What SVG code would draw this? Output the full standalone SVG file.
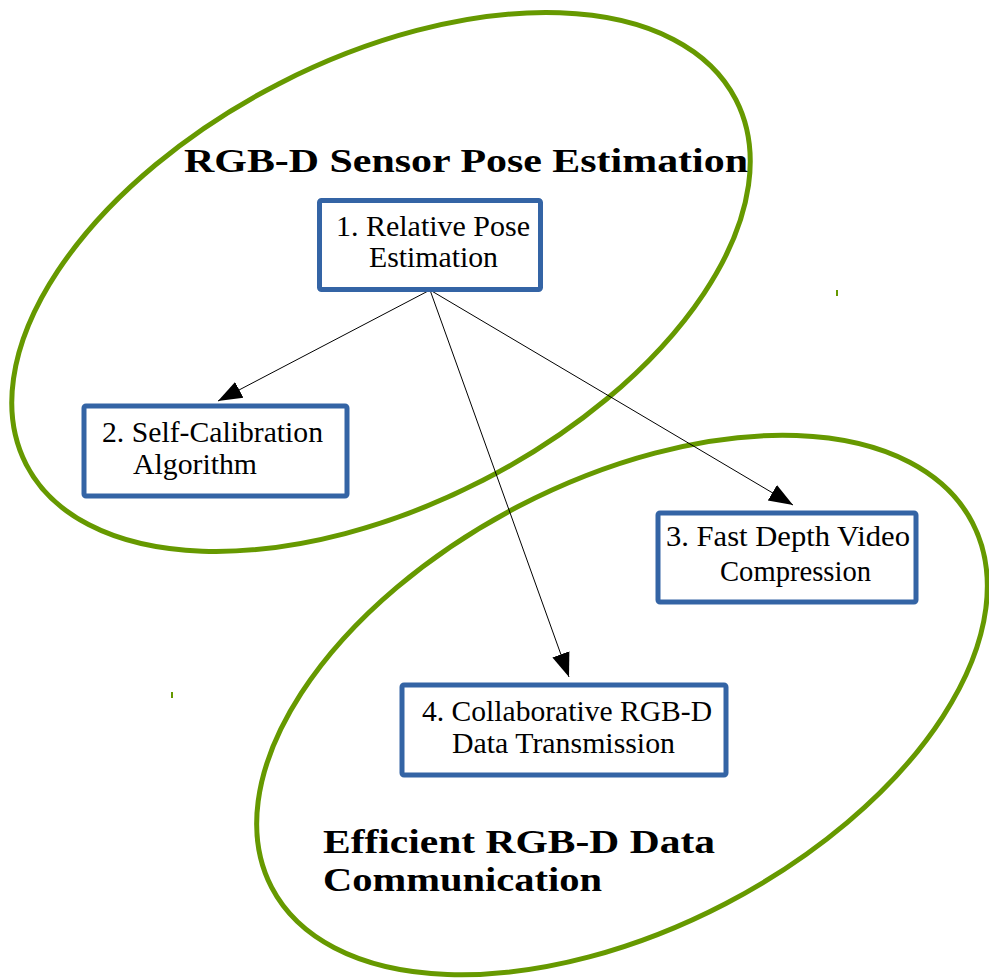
<svg xmlns="http://www.w3.org/2000/svg" width="989" height="979" viewBox="0 0 989 979">
<style>
.grp{fill:none;stroke:#669900;stroke-width:5}
.box{fill:#ffffff;stroke:#3464a5;stroke-width:5}
.lbl{font-family:"Liberation Serif","Times New Roman",serif;font-size:29px;fill:#000}
.ttl{font-family:"Liberation Serif","Times New Roman",serif;font-size:34px;font-weight:bold;fill:#000}
.edge{stroke:#000;stroke-width:1;fill:none}
</style>
<defs>
<marker id="ah" markerUnits="userSpaceOnUse" markerWidth="26" markerHeight="20" refX="24" refY="10" orient="auto">
<path d="M0,1 L24,10 L0,19 Z" fill="#000"/>
</marker>
</defs>
<rect width="989" height="979" fill="#fff"/>
<g id="group-pose">
<ellipse class="grp" cx="381" cy="282" rx="399" ry="223" transform="rotate(-27.2 381 282)"/>
<text class="ttl" x="184" y="172" textLength="564" lengthAdjust="spacingAndGlyphs">RGB-D Sensor Pose Estimation</text>
</g>
<g id="group-comm">
<ellipse class="grp" cx="622" cy="705" rx="395" ry="224" transform="rotate(-27.5 622 705)"/>
<text class="ttl" x="323" y="853" textLength="392" lengthAdjust="spacingAndGlyphs">Efficient RGB-D Data</text>
<text class="ttl" x="323" y="891" textLength="279" lengthAdjust="spacingAndGlyphs">Communication</text>
</g>
<g id="ticks" stroke="#669900" stroke-width="2">
<line x1="837" y1="290" x2="837" y2="296"/>
<line x1="172" y1="692" x2="172" y2="698"/>
</g>
<g id="connectors">
<line class="edge" x1="430" y1="290" x2="218" y2="401" marker-end="url(#ah)"/>
<line class="edge" x1="430" y1="290" x2="793" y2="505" marker-end="url(#ah)"/>
<line class="edge" x1="430" y1="290" x2="569" y2="677" marker-end="url(#ah)"/>
</g>
<g id="node1">
<rect class="box" x="319.5" y="200.5" width="221" height="89" rx="2"/>
<text class="lbl" x="336" y="236" textLength="194" lengthAdjust="spacingAndGlyphs">1.  Relative Pose</text>
<text class="lbl" x="369" y="267" textLength="129" lengthAdjust="spacingAndGlyphs">Estimation</text>
</g>
<g id="node2">
<rect class="box" x="84" y="406" width="263" height="90" rx="2"/>
<text class="lbl" x="102" y="442" textLength="221" lengthAdjust="spacingAndGlyphs">2.  Self-Calibration</text>
<text class="lbl" x="133" y="474" textLength="124" lengthAdjust="spacingAndGlyphs">Algorithm</text>
</g>
<g id="node3">
<rect class="box" x="658" y="513" width="258" height="89" rx="2"/>
<text class="lbl" x="666" y="546" textLength="244" lengthAdjust="spacingAndGlyphs">3.  Fast Depth Video</text>
<text class="lbl" x="720" y="581" textLength="151" lengthAdjust="spacingAndGlyphs">Compression</text>
</g>
<g id="node4">
<rect class="box" x="402" y="685" width="324" height="90" rx="2"/>
<text class="lbl" x="422" y="721" textLength="290" lengthAdjust="spacingAndGlyphs">4.  Collaborative RGB-D</text>
<text class="lbl" x="452" y="753" textLength="223" lengthAdjust="spacingAndGlyphs">Data Transmission</text>
</g>
</svg>
